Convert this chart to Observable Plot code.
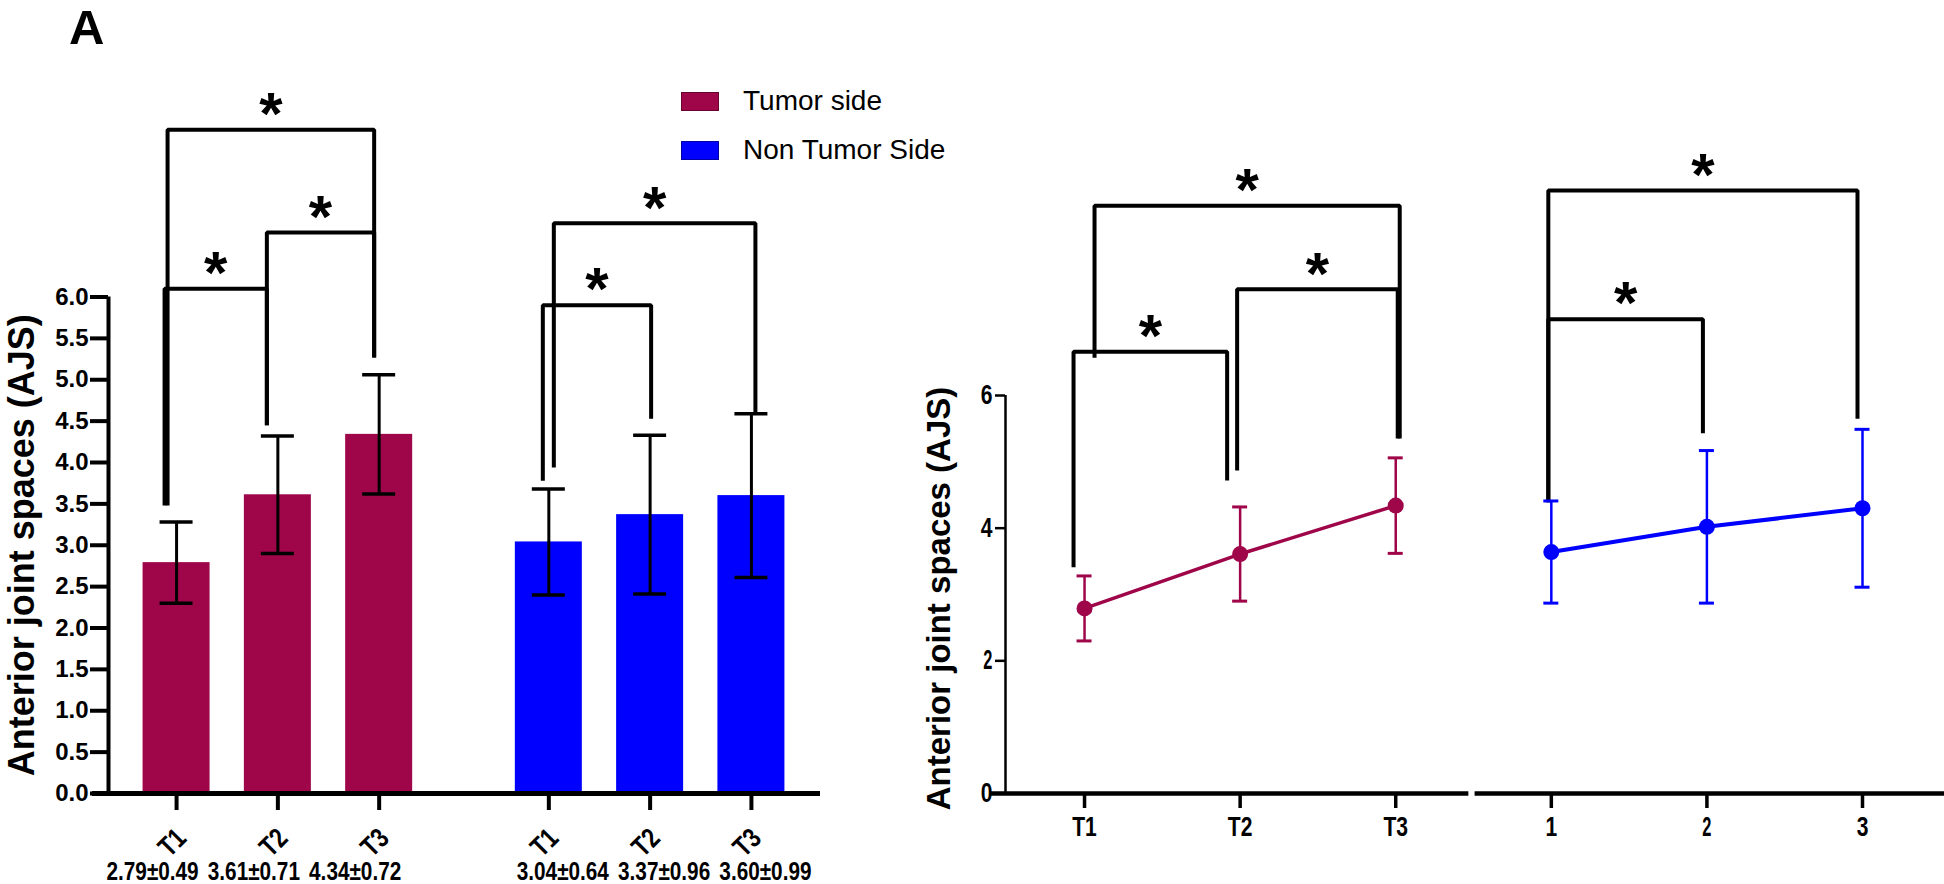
<!DOCTYPE html>
<html><head><meta charset="utf-8">
<script src="https://cdn.jsdelivr.net/npm/d3@7"></script>
<script src="https://cdn.jsdelivr.net/npm/@observablehq/plot@0.6"></script>
<style>
body{margin:0;background:#fff;}
#wrap{position:relative;width:1944px;height:884px;overflow:hidden;background:#fff;font-family:"Liberation Sans",Arial,sans-serif;}
#left{position:absolute;left:0;top:0;}
#right{position:absolute;left:900px;top:0;}
#panelA{position:absolute;left:69px;top:7px;font:bold 49px/40px "Liberation Sans",Arial,sans-serif;color:#000;}
#legend{position:absolute;left:681px;top:88px;font-size:28px;color:#000;}
.row{display:flex;align-items:center;height:26px;margin-bottom:23px;white-space:nowrap;}
.sw{width:38px;height:19px;margin-right:24px;box-sizing:border-box;border:1px solid rgba(0,0,0,0.35);}
</style></head><body>
<div id="wrap">
  <div id="left"></div>
  <div id="right"></div>
  <div id="panelA">A</div>
  <div id="legend"></div>
</div>
<script>
// ---------------- data ----------------
const timePoints = ["T1", "T2", "T3"];
const sides = ["Tumor side", "Non Tumor Side"];
const tumorMean = [2.79, 3.61, 4.34];
const tumorSD = [0.49, 0.71, 0.72];
const nonTumorMean = [3.04, 3.37, 3.60];
const nonTumorSD = [0.64, 0.96, 0.99];
const barYTicks = [0, 0.5, 1, 1.5, 2, 2.5, 3, 3.5, 4, 4.5, 5, 5.5, 6];

const lineTumorLabels = ["T1", "T2", "T3"];
const lineNonTumorLabels = ["1", "2", "3"];
const lineTumorMean = [2.79, 3.61, 4.34];
const lineTumorSD = [0.49, 0.71, 0.72];
const lineNonTumorMean = [3.64, 4.02, 4.30];
const lineNonTumorSD = [0.77, 1.15, 1.19];
const lineYTicks = [0, 2, 4, 6];

const yLabel = "Anterior joint spaces (AJS)";
const panelLabel = "A";

// significance brackets (levels / leg ends in AJS units)
const barBrackets = [
  {side: 0, from: "T1", to: "T2", level: 6.10, fromEnd: 3.48, toEnd: 4.45},
  {side: 0, from: "T2", to: "T3", level: 6.78, fromEnd: 4.45, toEnd: 5.27},
  {side: 0, from: "T1", to: "T3", level: 8.02, fromEnd: 3.48, toEnd: 5.27},
  {side: 1, from: "T1", to: "T2", level: 5.90, fromEnd: 3.78, toEnd: 4.53},
  {side: 1, from: "T1", to: "T3", level: 6.89, fromEnd: 3.94, toEnd: 4.59}
];
const lineBrackets = [
  {from: "T1", to: "T3", level: 8.86, fromEnd: 6.57, toEnd: 5.35},
  {from: "T2", to: "T3", level: 7.60, fromEnd: 4.87, toEnd: 5.35},
  {from: "T1", to: "T2", level: 6.66, fromEnd: 3.41, toEnd: 4.72},
  {from: "1", to: "3", level: 9.09, fromEnd: 4.39, toEnd: 5.65},
  {from: "1", to: "2", level: 7.15, fromEnd: 4.39, toEnd: 5.43}
];

// ---------------- style ----------------
const SANS = '"Liberation Sans", Arial, sans-serif';
const RED = "#9f0649", BLUE = "#0000ff";
const sideColors = [RED, BLUE];
const barLegNudge = [[-12, -11], [-11, -5], [-9, -5], [-6, 1], [5, 4]];     // px
const lineLegNudge = [[10, 4], [-3, 2], [-11, -13], [-3, -5], [-3, -4]];    // px

// squeeze given texts horizontally to imitate a condensed face
function condense(root, strings, factor) {
  const set = new Set(strings);
  root.querySelectorAll("text").forEach(el => {
    if (!set.has(el.textContent)) return;
    const w = el.getComputedTextLength();
    if (w > 0) {
      el.setAttribute("textLength", (w * factor).toFixed(2));
      el.setAttribute("lengthAdjust", "spacingAndGlyphs");
    }
  });
}

// ---------------- legend / panel label ----------------
document.getElementById("panelA").textContent = panelLabel;
const legend = document.getElementById("legend");
sides.forEach((s, i) => {
  const row = document.createElement("div");
  row.className = "row";
  const sw = document.createElement("div");
  sw.className = "sw";
  sw.style.background = sideColors[i];
  const tx = document.createElement("span");
  tx.textContent = s;
  row.append(sw, tx);
  legend.append(row);
});

function bracketPaths(brs, pos, nudge, ppu) {
  return brs.flatMap((b, k) => {
    const x0 = pos(b, b.from) + nudge[k][0] / ppu;
    const x1 = pos(b, b.to) + nudge[k][1] / ppu;
    return [
      {id: k, x: x0, y: b.fromEnd}, {id: k, x: x0, y: b.level},
      {id: k, x: x1, y: b.level}, {id: k, x: x1, y: b.toEnd}
    ];
  });
}
function bracketStars(brs, pos, nudge, ppu) {
  return brs.map((b, k) => ({
    x: (pos(b, b.from) + nudge[k][0] / ppu + pos(b, b.to) + nudge[k][1] / ppu) / 2,
    y: b.level
  }));
}

// ---------------- left: bar chart ----------------
{
  const W = 960, H = 884, ML = 108, MR = 140, MT = 296.5, MB = 91;
  const groupShift = 3.675;
  const X = [-0.672, 2 + groupShift + 0.682];
  const ppu = (W - ML - MR) / (X[1] - X[0]);
  const rows = sides.flatMap((side, s) => timePoints.map((t, i) => ({
    side: s, time: t, x: i + s * groupShift,
    mean: (s ? nonTumorMean : tumorMean)[i],
    sd: (s ? nonTumorSD : tumorSD)[i]
  })));
  rows.forEach(d => d.label = `${d.mean.toFixed(2)}±${d.sd.toFixed(2)}`);
  const pos = (b, t) => timePoints.indexOf(t) + b.side * groupShift;
  const barHalf = 33.5 / ppu, capHalf = 16.5 / ppu;

  const chart = Plot.plot({
    width: W, height: H,
    marginLeft: ML, marginRight: MR, marginTop: MT, marginBottom: MB,
    x: {type: "linear", domain: X},
    y: {type: "linear", domain: [0, 6]},
    style: {background: "transparent", overflow: "visible", fontFamily: SANS},
    marks: [
      ...[0, 1].map(s => Plot.rectY(rows.filter(d => d.side === s), {
        x1: d => d.x - barHalf, x2: d => d.x + barHalf, y1: 0, y2: "mean", fill: sideColors[s]
      })),
      Plot.ruleX(rows, {x: "x", y1: d => d.mean - d.sd, y2: d => d.mean + d.sd, stroke: "black", strokeWidth: 3}),
      Plot.ruleY(rows, {y: d => d.mean + d.sd, x1: d => d.x - capHalf, x2: d => d.x + capHalf, stroke: "black", strokeWidth: 3.5}),
      Plot.ruleY(rows, {y: d => d.mean - d.sd, x1: d => d.x - capHalf, x2: d => d.x + capHalf, stroke: "black", strokeWidth: 3.5}),
      // axes
      Plot.ruleX([X[0]], {y1: 0, y2: 6, stroke: "black", strokeWidth: 4}),
      Plot.ruleY([0], {x1: X[0] - 16 / ppu, x2: X[1], stroke: "black", strokeWidth: 5}),
      Plot.axisY({ticks: barYTicks, tickFormat: d3.format(".1f"), tickSize: 18, tickPadding: 2,
        strokeWidth: 4, fontSize: 24, fontWeight: "bold", fontFamily: SANS, label: null}),
      Plot.axisX({ticks: rows.map(d => d.x), tickFormat: () => "", tickSize: 17, strokeWidth: 4, label: null}),
      Plot.text(rows, {x: "x", y: 0, text: "time", rotate: -45, textAnchor: "end", lineAnchor: "middle",
        dx: 5, dy: 40, fontSize: 28, fontWeight: "bold", fontFamily: SANS}),
      Plot.text(rows.filter(d => d.side === 0), {x: "x", y: 0, text: "label", dx: -24, dy: 78,
        lineAnchor: "middle", fontSize: 25, fontWeight: "bold", fontFamily: SANS}),
      Plot.text(rows.filter(d => d.side === 1), {x: "x", y: 0, text: "label", dx: 14, dy: 78,
        lineAnchor: "middle", fontSize: 25, fontWeight: "bold", fontFamily: SANS}),
      Plot.text([yLabel], {x: () => X[0], y: () => 3, text: d => d, rotate: -90, dx: -86.5,
        lineAnchor: "middle", fontSize: 36, fontWeight: "bold", fontFamily: SANS}),
      // brackets
      Plot.line(bracketPaths(barBrackets, pos, barLegNudge, ppu), {x: "x", y: "y", z: "id",
        stroke: "black", strokeWidth: 4, strokeLinejoin: "miter", strokeLinecap: "butt"}),
      Plot.text(bracketStars(barBrackets, pos, barLegNudge, ppu), {x: "x", y: "y", text: () => "*",
        dy: -15, lineAnchor: "middle", fontSize: 60, fontWeight: "bold", fontFamily: SANS})
    ]
  });
  document.getElementById("left").append(chart);
  condense(chart, timePoints, 0.8);
  condense(chart, rows.map(d => d.label), 0.83);
}

// ---------------- right: line chart ----------------
{
  const W = 1044, H = 884, ML = 105, MR = 0, MT = 395, MB = 91;
  const labels = [...lineTumorLabels, ...lineNonTumorLabels];
  const X = [-0.508, 5.527];
  const ppu = (W - ML - MR) / (X[1] - X[0]);
  const series = [
    lineTumorLabels.map((t, i) => ({side: 0, label: t, x: labels.indexOf(t), mean: lineTumorMean[i], sd: lineTumorSD[i]})),
    lineNonTumorLabels.map((t, i) => ({side: 1, label: t, x: labels.indexOf(t), mean: lineNonTumorMean[i], sd: lineNonTumorSD[i]}))
  ];
  const all = series.flat();
  const pos = (b, t) => labels.indexOf(t);
  const capHalf = 7.5 / ppu;
  const breakAt = [2.47, 2.51];

  const seriesMarks = series.flatMap((data, s) => [
    Plot.ruleX(data, {x: "x", y1: d => d.mean - d.sd, y2: d => d.mean + d.sd, stroke: sideColors[s], strokeWidth: 2.5}),
    Plot.ruleY(data, {y: d => d.mean + d.sd, x1: d => d.x - capHalf, x2: d => d.x + capHalf, stroke: sideColors[s], strokeWidth: 3}),
    Plot.ruleY(data, {y: d => d.mean - d.sd, x1: d => d.x - capHalf, x2: d => d.x + capHalf, stroke: sideColors[s], strokeWidth: 3}),
    Plot.line(data, {x: "x", y: "mean", stroke: sideColors[s], strokeWidth: s ? 4 : 3.5}),
    Plot.dot(data, {x: "x", y: "mean", r: 8, fill: sideColors[s], stroke: "none"})
  ]);

  const chart = Plot.plot({
    width: W, height: H,
    marginLeft: ML, marginRight: MR, marginTop: MT, marginBottom: MB,
    x: {type: "linear", domain: X},
    y: {type: "linear", domain: [0, 6]},
    style: {background: "transparent", overflow: "visible", fontFamily: SANS},
    marks: [
      Plot.ruleX([X[0]], {y1: 0, y2: 6, stroke: "black", strokeWidth: 2.5}),
      Plot.ruleY([[X[0] - 14 / ppu, breakAt[0]], [breakAt[1], X[1]]], {x1: d => d[0], x2: d => d[1], y: 0,
        stroke: "black", strokeWidth: 4.5}),
      Plot.axisY({ticks: lineYTicks, tickFormat: d3.format("d"), tickSize: 10, tickPadding: 3,
        strokeWidth: 2.5, fontSize: 27, fontWeight: "bold", fontFamily: SANS, label: null}),
      Plot.axisX({ticks: all.map(d => d.x), tickFormat: () => "", tickSize: 15, strokeWidth: 3.5, label: null}),
      Plot.text(all, {x: "x", y: 0, text: "label", dy: 34, lineAnchor: "middle",
        fontSize: 27, fontWeight: "bold", fontFamily: SANS}),
      Plot.text([yLabel], {x: () => X[0], y: () => 3, text: d => d, rotate: -90, dx: -65.6, dy: 4,
        lineAnchor: "middle", fontSize: 33, fontWeight: "bold", fontFamily: SANS}),
      Plot.line(bracketPaths(lineBrackets, pos, lineLegNudge, ppu), {x: "x", y: "y", z: "id",
        stroke: "black", strokeWidth: 4, strokeLinejoin: "miter", strokeLinecap: "butt"}),
      Plot.text(bracketStars(lineBrackets, pos, lineLegNudge, ppu), {x: "x", y: "y", text: () => "*",
        dy: -15, lineAnchor: "middle", fontSize: 60, fontWeight: "bold", fontFamily: SANS}),
      ...seriesMarks
    ]
  });
  document.getElementById("right").append(chart);
  condense(chart, labels, 0.78);
  condense(chart, lineYTicks.map(String), 0.78);
}
</script>
</body></html>
